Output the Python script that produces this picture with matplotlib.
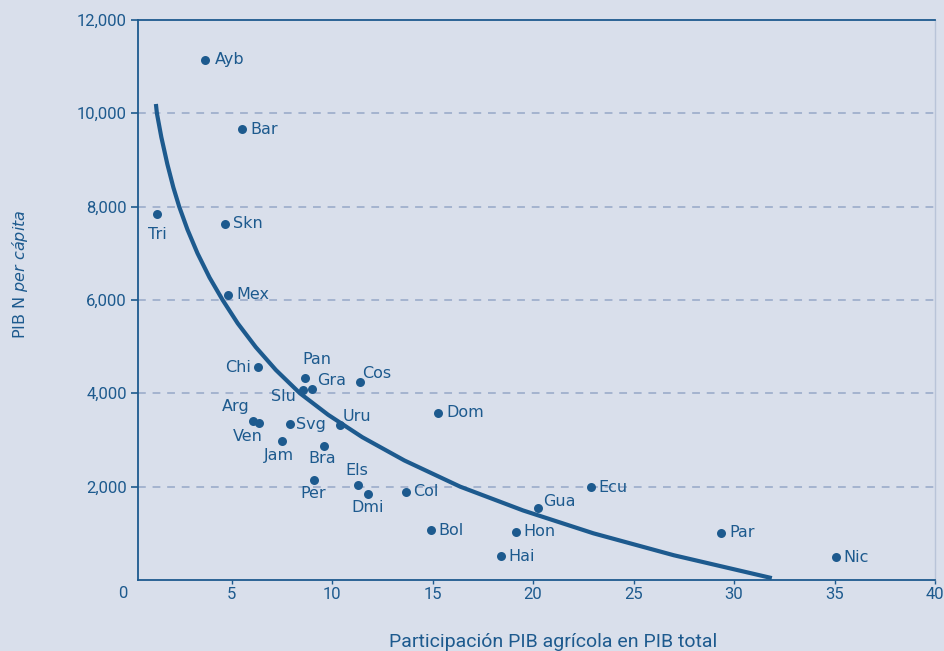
import matplotlib.pyplot as plt
import numpy as np

plt.rcParams["font.family"] = ["DejaVu Sans"]
plt.rcParams["mathtext.fontset"] = "custom"
plt.rcParams["mathtext.rm"] = "DejaVu Sans"
plt.rcParams["mathtext.it"] = "DejaVu Sans:italic"

# data
countries = ["Ayb", "Bar", "Tri", "Skn", "Mex", "Chi", "Pan", "Gra", "Slu", "Cos",
             "Arg", "Ven", "Svg", "Uru", "Jam", "Bra", "Dom", "Els", "Per", "Dmi",
             "Col", "Ecu", "Gua", "Bol", "Hon", "Hai", "Par", "Nic"]
agri_share = [3.67, 5.51, 1.28, 4.67, 4.82, 6.31, 8.65, 9.0, 8.55, 11.39,
              6.06, 6.36, 7.91, 10.39, 7.5, 9.6, 15.28, 11.29, 9.1, 11.79,
              13.68, 22.88, 20.25, 14.92, 19.15, 18.4, 29.35, 35.07]
gdp_pc = [11150, 9660, 7840, 7630, 6110, 4560, 4330, 4090, 4070, 4240,
          3410, 3360, 3340, 3320, 2980, 2870, 3580, 2040, 2140, 1840,
          1890, 1990, 1540, 1070, 1030, 510, 1010, 490]

# trend curve
trend_x = [1.23, 1.28, 1.5, 1.8, 2.1, 2.39, 2.8, 3.3, 3.9, 4.55, 5.3, 6.2, 7.2,
           8.4, 9.8, 11.5, 13.6, 16.37, 19.5, 23.0, 27.0, 31.88]
trend_y = [10200, 10000, 9490, 8910, 8410, 8000, 7510, 7000, 6480, 6000, 5500,
           4990, 4500, 4000, 3540, 3060, 2560, 2000, 1490, 1000, 530, 40]

y_ticks = [2000, 4000, 6000, 8000, 10000, 12000]
x_ticks = [5, 10, 15, 20, 25, 30, 35, 40]

# label placement (pixel offsets, horizontal alignment)
label_pos = {
    "Ayb": (10, 0, "left"), "Bar": (8, 0, "left"), "Tri": (0, -20, "center"),
    "Skn": (8, 0, "left"), "Mex": (8, 0, "left"), "Chi": (-7, 0, "right"),
    "Pan": (12, 18, "center"), "Gra": (5, 9, "left"), "Slu": (-7, -6, "right"),
    "Cos": (2, 9, "left"), "Arg": (-3, 14, "right"), "Ven": (4, -13, "right"),
    "Svg": (6, 0, "left"), "Uru": (3, 9, "left"), "Jam": (-3, -15, "center"),
    "Bra": (-2, -12, "center"), "Dom": (8, 0, "left"), "Els": (-1, 14, "center"),
    "Per": (-1, -13, "center"), "Dmi": (0, -13, "center"), "Col": (7, 0, "left"),
    "Ecu": (7, 0, "left"), "Gua": (5, 7, "left"), "Bol": (7, 0, "left"),
    "Hon": (7, 0, "left"), "Hai": (7, 0, "left"), "Par": (8, 0, "left"),
    "Nic": (7, 0, "left"),
}

bg = "#d9dfeb"
blue = "#1d5a8e"
grid_c = "#a4b3cf"

fig = plt.figure(figsize=(9.44, 6.51), dpi=100, facecolor=bg)
ax = fig.add_axes([0.1462, 0.1091, 0.8443, 0.8602], facecolor=bg)

for yv in y_ticks[:-1]:
    ax.axhline(yv, color=grid_c, lw=1.4, ls=(0, (4, 3.5)), zorder=1)

ax.plot(trend_x, trend_y, color=blue, lw=3, solid_capstyle="butt",
        solid_joinstyle="round", zorder=2)
ax.scatter(agri_share, gdp_pc, s=42, color=blue, zorder=3, linewidths=0)

for name, xv, yv in zip(countries, agri_share, gdp_pc):
    dx, dy, ha = label_pos[name]
    ax.annotate(name, (xv, yv), xytext=(dx, dy), textcoords="offset pixels",
                ha=ha, va="center", fontsize=11.5, color=blue)

ax.set_xlim(0.34, 40)
ax.set_ylim(0, 12000)
ax.set_xticks(x_ticks)
ax.set_yticks(y_ticks)
ax.set_yticklabels([f"{v:,}" for v in y_ticks])
ax.tick_params(axis="y", colors=blue, labelsize=12, length=5, width=1.2, pad=3)
ax.tick_params(axis="x", colors=blue, labelsize=12, length=3, width=1, pad=2)
for lab in ax.get_xticklabels() + ax.get_yticklabels():
    lab.set_fontfamily("Roboto")

for side in ["left", "bottom", "top"]:
    ax.spines[side].set_color(blue)
    ax.spines[side].set_linewidth(1.3)
ax.spines["right"].set_color("#b9c4d8")
ax.spines["right"].set_linewidth(1)

ax.text(-0.019, -0.011, "0", transform=ax.transAxes, ha="center", va="top",
        fontsize=12, color=blue, fontfamily="Roboto")

ax.set_xlabel("Participación PIB agrícola en PIB total", color=blue,
              fontsize=14, fontfamily="Roboto")
ax.xaxis.set_label_coords(0.521, -0.094)
ax.set_ylabel(r"PIB N $\mathit{per\ cápita}$", color=blue, fontsize=11.5)
ax.yaxis.set_label_coords(-0.136, 0.546)

fig.savefig("out.png", dpi=100, facecolor=bg)
